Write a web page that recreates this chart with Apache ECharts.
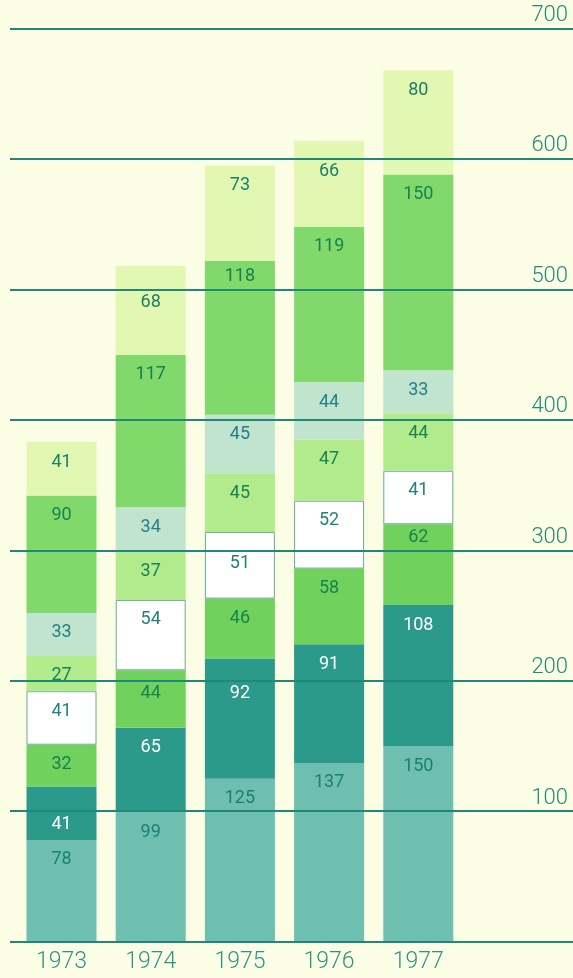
<!DOCTYPE html>
<html>
<head>
<meta charset="utf-8">
<script src="https://cdn.jsdelivr.net/npm/echarts@6/dist/echarts.min.js"></script>
<style>
html,body{margin:0;padding:0;background:#fbfde4;}
#c{width:573px;height:978px;}
</style>
</head>
<body>
<div id="c"></div>
<script>
var years = ['1973','1974','1975','1976','1977'];
var s1 = [78, 99, 125, 137, 150];
var s2 = [41, 65, 92, 91, 108];
var s3 = [32, 44, 46, 58, 62];
var s4 = [41, 54, 51, 52, 41];
var s5 = [27, 37, 45, 47, 44];
var s6 = [33, 34, 45, 44, 33];
var s7 = [90, 117, 118, 119, 150];
var s8 = [41, 68, 73, 66, 80];
var yTicks = ['', '100', '200', '300', '400', '500', '600', '700'];
var gridValues = [100, 200, 300, 400, 500, 600, 700];

var seriesData = [s1, s2, s3, s4, s5, s6, s7, s8];
var colors = ['#6fbfb0', '#2b9a8b', '#70d25c', '#ffffff', '#b2eb8c', '#c0e4cd', '#82d96b', '#e2f8b2'];
var textColors = ['#1a8074', '#ffffff', '#168250', '#23807e', '#178454', '#23808a', '#168250', '#1a8068'];
var FONT = 'Roboto';

var chart = echarts.init(document.getElementById('c'));

// keep segment labels clear of the grid lines that run across the bars
function avoidLines(p) {
  var r = p.labelRect, seg = p.rect;
  if (!r || !seg) return;
  var top = r.y, bot = r.y + r.height;
  for (var i = 0; i < gridValues.length; i++) {
    var ly = chart.convertToPixel({ yAxisIndex: 0 }, gridValues[i]);
    if (ly > top - 3 && ly < bot + 3) {
      var gap = 4;
      var aboveTop = ly - gap - r.height;
      var belowTop = ly + gap;
      var fitsAbove = aboveTop >= seg.y + 3;
      var fitsBelow = belowTop + r.height <= seg.y + seg.height - 2;
      var dAbove = Math.abs(aboveTop - top), dBelow = Math.abs(belowTop - top);
      var newTop;
      if (fitsAbove && (!fitsBelow || dAbove <= dBelow)) newTop = aboveTop;
      else if (fitsBelow) newTop = belowTop;
      else return;
      return { x: r.x + r.width / 2, y: newTop, align: 'center', verticalAlign: 'top' };
    }
  }
}

var series = seriesData.map(function (d, i) {
  return {
    type: 'bar',
    stack: 'total',
    xAxisIndex: 0,
    yAxisIndex: 1,
    data: d,
    barWidth: 70,
    itemStyle: {
      color: colors[i],
      borderColor: i === 3 ? '#6aa898' : null,
      borderWidth: i === 3 ? 1 : 0
    },
    label: {
      show: true,
      position: 'insideTop',
      distance: 11,
      color: textColors[i],
      fontFamily: FONT,
      fontSize: 18,
      fontWeight: 400
    },
    labelLayout: avoidLines,
    emphasis: { disabled: true },
    animation: false
  };
});

chart.setOption({
  backgroundColor: '#fbfde4',
  animation: false,
  grid: [
    { left: 16.9, width: 446, top: 28.5, bottom: 36.3 },
    { left: 10, right: 0, top: 28.5, bottom: 36.3 }
  ],
  xAxis: [
    {
      type: 'category', gridIndex: 0, data: years,
      axisLine: { show: false }, axisTick: { show: false },
      axisLabel: { color: '#2f9484', fontFamily: FONT, fontSize: 23, fontWeight: 300, margin: 9 }
    },
    {
      type: 'value', gridIndex: 1, show: false
    }
  ],
  yAxis: [
    {
      type: 'value', gridIndex: 1, min: 0, max: 700, interval: 100,
      position: 'right', z: 5,
      axisLine: { show: false }, axisTick: { show: false },
      splitLine: { show: true, lineStyle: { color: '#1f8878', width: 1.8 } },
      axisLabel: {
        inside: true, margin: 5, verticalAlign: 'bottom',
        padding: [0, 0, 2, 0],
        color: '#238a7a', fontFamily: FONT, fontSize: 22, fontWeight: 300,
        formatter: function (v) { return yTicks[Math.round(v / 100)]; }
      }
    },
    {
      type: 'value', gridIndex: 0, min: 0, max: 700, interval: 100, show: false,
      splitLine: { show: false }
    }
  ],
  series: series
});
</script>
</body>
</html>
